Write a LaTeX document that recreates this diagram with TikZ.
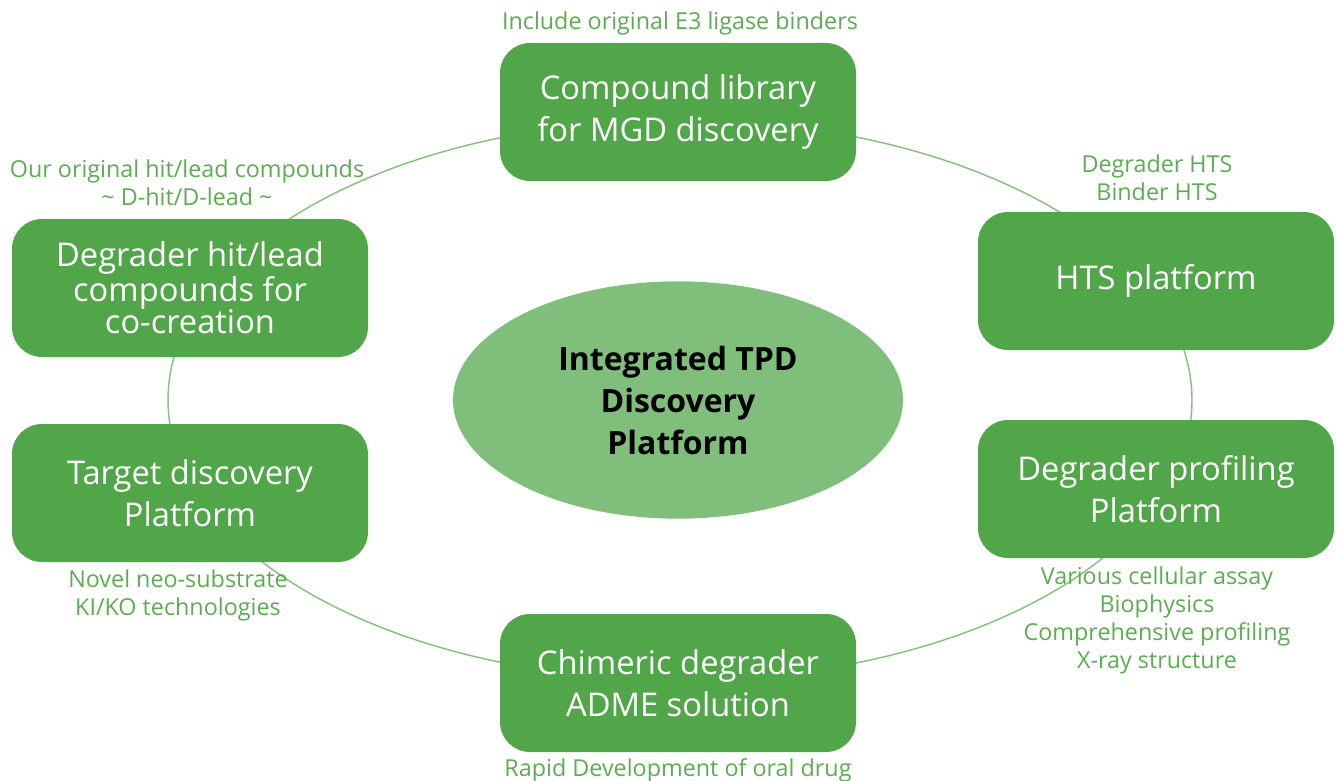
\documentclass[tikz,border=0pt]{standalone}
\usepackage{fontspec}
\setmainfont{Open Sans}
\usetikzlibrary{shapes.geometric}
\definecolor{boxgreen}{HTML}{52A64A}
\definecolor{notegreen}{HTML}{5AAE50}
\definecolor{ringgreen}{HTML}{86C27E}
\definecolor{coregreen}{HTML}{7FBF7B}
\begin{document}
\begin{tikzpicture}[x=0.75pt,y=-0.75pt]
\tikzstyle{platform}=[rectangle, rounded corners=22.5pt, fill=boxgreen, text=white, minimum width=267pt, minimum height=103.5pt, align=center, font=\fontsize{24.5}{31.5}\selectfont]
\tikzstyle{note}=[text=notegreen, align=center, inner sep=0pt, font=\fontsize{17.5}{21}\selectfont]
\useasboundingbox (0,0) rectangle (1336,781);
% ring and core
\node (ring) at (680,400) [ellipse, draw=ringgreen, line width=1.1pt, minimum width=768pt, minimum height=420pt, inner sep=0pt] {};
\node (core) at (678,400) [ellipse, fill=coregreen, minimum width=337.5pt, minimum height=178pt, align=center, font=\bfseries\fontsize{24}{31.5}\selectfont] {Integrated TPD\\Discovery\\Platform};
% platforms
\node (clib) at (678,112) [platform] {Compound library\\for MGD discovery};
\node (hts) at (1156,281) [platform] {HTS platform};
\node (prof) at (1156,489) [platform] {Degrader profiling\\Platform};
\node (adme) at (678,683) [platform] {Chimeric degrader\\ADME solution};
\node (target) at (190,493) [platform] {Target discovery\\Platform};
\node (hitlead) at (190,288) [platform, font=\fontsize{24.5}{24.5}\selectfont] {Degrader hit/lead\\compounds for\\co-creation};
% notes
\node (clibnote) at (680,23) [note] {Include original E3 ligase binders};
\node (hitleadnote) at (187,183) [note] {Our original hit/lead compounds\\\textasciitilde{} D-hit/D-lead \textasciitilde};
\node (htsnote) at (1157,178) [note] {Degrader HTS\\Binder HTS};
\node (profnote) at (1157,620) [note] {Various cellular assay\\Biophysics\\Comprehensive profiling\\X-ray structure};
\node (targetnote) at (178,595) [note] {Novel neo-substrate\\KI/KO technologies};
\node (admenote) at (678,770) [note] {Rapid Development of oral drug};
\end{tikzpicture}
\end{document}
